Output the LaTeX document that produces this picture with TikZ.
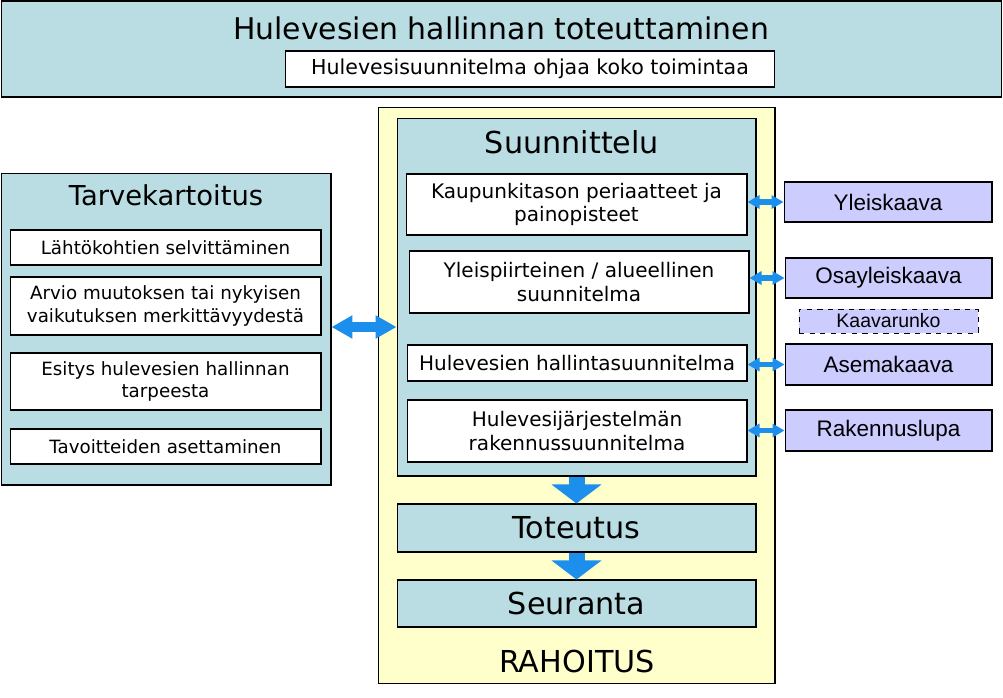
\documentclass[tikz,border=0pt]{standalone}
\usepackage{fontspec}
\setmainfont{DejaVu Sans}
\newfontfamily\arialfont{Liberation Sans}
\usetikzlibrary{arrows.meta}

\definecolor{sininen}{RGB}{185,221,226}
\definecolor{keltainen}{RGB}{255,255,204}
\definecolor{violetti}{RGB}{204,204,255}
\definecolor{nuolivari}{RGB}{28,143,236}

\begin{document}
\begin{tikzpicture}[x=0.02cm, y=-0.02cm,
    bluebox/.style={draw, fill=sininen, line width=0.6pt, inner sep=0pt},
    whitebox/.style={draw, fill=white, line width=0.6pt, inner sep=0pt, align=center,
        font=\fontsize{11.4}{13.6}\selectfont},
    leftbox/.style={whitebox, minimum width=6.22cm, font=\fontsize{10.4}{13}\selectfont},
    kaavabox/.style={draw, fill=violetti, line width=0.6pt, inner sep=0pt,
        minimum width=4.14cm, font=\arialfont\fontsize{12.8}{14}\selectfont},
    bigtitle/.style={font=\fontsize{17.2}{20}\selectfont, inner sep=0pt},
    midtitle/.style={font=\fontsize{17.2}{20}\selectfont, inner sep=0pt},
    smallarrow/.style={draw=nuolivari, line width=0.11cm,
        {Triangle[width=0.26cm, length=0.24cm]}-{Triangle[width=0.26cm, length=0.24cm]}},
    bigarrow/.style={draw=nuolivari, line width=0.2cm,
        {Triangle[width=0.44cm, length=0.42cm]}-{Triangle[width=0.44cm, length=0.42cm]}},
    downarrow/.style={draw=nuolivari, line width=0.32cm,
        -{Triangle[width=0.98cm, length=0.38cm]}}]

    \useasboundingbox (0,0) rectangle (1003,697);

    % Ylin laatikko
    \node[bluebox, minimum width=20.02cm, minimum height=1.92cm] (top) at (501.5,49) {};
    \node[font=\fontsize{17}{20}\selectfont, inner sep=0pt] (toptitle) at (501,28)
        {Hulevesien hallinnan toteuttaminen};
    \node[whitebox, minimum width=9.8cm, minimum height=0.72cm, font=\fontsize{11.7}{14}\selectfont]
        (ohjaa) at (530,69) {Hulevesisuunnitelma ohjaa koko toimintaa};

    % Rahoitus
    \node[draw, fill=keltainen, line width=0.6pt, minimum width=7.94cm, minimum height=11.54cm]
        (rahoitus) at (576.5,395.5) {};
    \node[midtitle] (rahtitle) at (577,661) {RAHOITUS};

    % Suunnittelu
    \node[bluebox, minimum width=7.18cm, minimum height=7.16cm] (suunn) at (576.5,297) {};
    \node[bigtitle] (suunntitle) at (572,142) {Suunnittelu};
    \node[whitebox, minimum width=6.82cm, minimum height=1.22cm] (k1) at (576.5,204.5)
        {Kaupunkitason periaatteet ja\\painopisteet};
    \node[whitebox, minimum width=6.8cm, minimum height=1.24cm] (k2) at (579,282)
        {Yleispiirteinen / alueellinen\\suunnitelma};
    \node[whitebox, minimum width=6.8cm, minimum height=0.72cm] (k3) at (577,363)
        {Hulevesien hallintasuunnitelma};
    \node[whitebox, minimum width=6.8cm, minimum height=1.24cm] (k4) at (577,431)
        {Hulevesijärjestelmän\\rakennussuunnitelma};

    \node[bluebox, minimum width=7.18cm, minimum height=0.96cm, midtitle] (toteutus) at (576.5,528)
        {Toteutus};
    \node[bluebox, minimum width=7.18cm, minimum height=0.94cm, midtitle] (seuranta) at (576.5,603.5)
        {Seuranta};

    % Tarvekartoitus
    \node[bluebox, minimum width=6.6cm, minimum height=6.24cm] (tarve) at (166,329) {};
    \node[font=\fontsize{15.6}{18}\selectfont, inner sep=0pt] (tarvetitle) at (166,195) {Tarvekartoitus};
    \node[leftbox, minimum height=0.7cm] (t1) at (165.5,247.5) {Lähtökohtien selvittäminen};
    \node[leftbox, minimum height=1.16cm] (t2) at (165.5,306)
        {Arvio muutoksen tai nykyisen\\vaikutuksen merkittävyydestä};
    \node[leftbox, minimum height=1.14cm] (t3) at (165.5,381.5)
        {Esitys hulevesien hallinnan\\tarpeesta};
    \node[leftbox, minimum height=0.7cm] (t4) at (165.5,446.5) {Tavoitteiden asettaminen};

    % Kaavat
    \node[kaavabox, minimum width=4.16cm, minimum height=0.8cm] (yleis) at (888,202) {Yleiskaava};
    \node[kaavabox, minimum height=0.8cm] (osayleis) at (888.5,278) {Osayleiskaava};
    \node[draw, dashed, fill=violetti, line width=0.5pt, inner sep=0pt, minimum width=3.58cm,
        minimum height=0.48cm, font=\arialfont\fontsize{11.1}{12}\selectfont] (runko) at (888.5,321) {Kaavarunko};
    \node[kaavabox, minimum height=0.82cm] (asema) at (888.5,364.5) {Asemakaava};
    \node[kaavabox, minimum height=0.82cm] (lupa) at (888.5,430.5) {Rakennuslupa};

    % Nuolet
    \coordinate (keski) at (0,327);
    \draw[bigarrow] (tarve.east |- keski) -- (suunn.west |- keski);
    \draw[smallarrow] (yleis.west -| k1.east) -- (yleis.west);
    \draw[smallarrow] (osayleis.west -| k2.east) -- (osayleis.west);
    \draw[smallarrow] (asema.west -| k3.east) -- (asema.west);
    \draw[smallarrow] (lupa.west -| k4.east) -- (lupa.west);
    \draw[downarrow] (suunn.south) -- (toteutus.north);
    \draw[downarrow] (toteutus.south) -- (seuranta.north);

\end{tikzpicture}
\end{document}
